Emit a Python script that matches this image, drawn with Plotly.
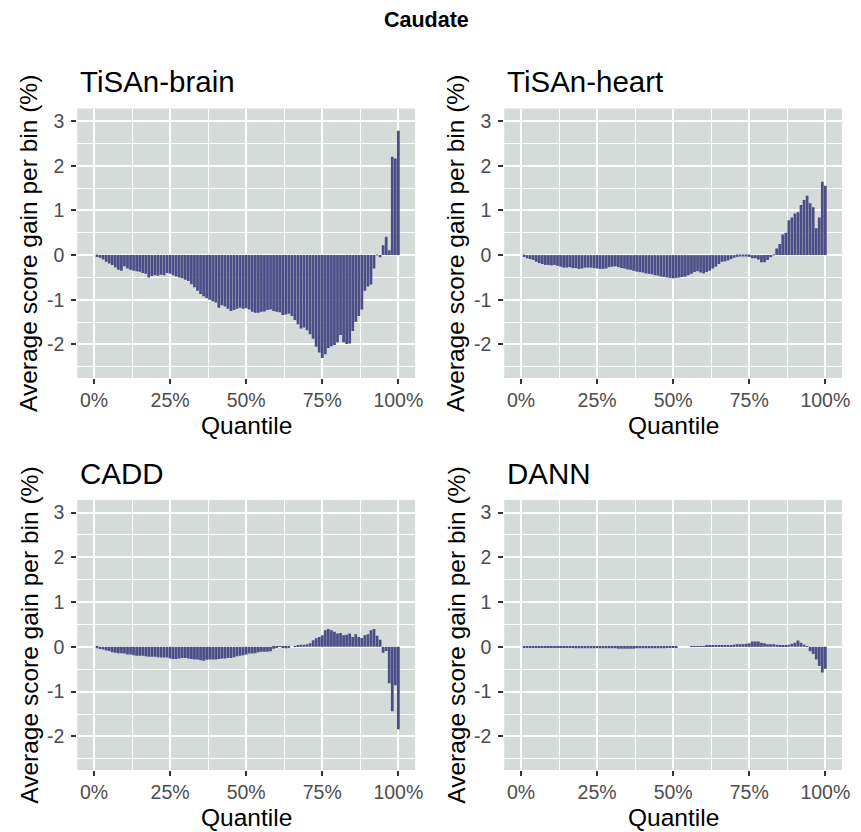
import plotly.graph_objects as go

# ---------------- data ----------------
quantile = list(range(1, 101))

tisan_brain = [
    -0.04, -0.06, -0.10, -0.15, -0.19, -0.22, -0.28, -0.33, -0.35, -0.25,
    -0.30, -0.33, -0.35, -0.36, -0.37, -0.40, -0.42, -0.50, -0.47, -0.45,
    -0.46, -0.44, -0.45, -0.40, -0.42, -0.45, -0.48, -0.50, -0.52, -0.55,
    -0.58, -0.65, -0.72, -0.80, -0.87, -0.92, -0.96, -1.00, -1.03, -1.06,
    -1.18, -1.12, -1.15, -1.20, -1.25, -1.23, -1.20, -1.18, -1.20, -1.19,
    -1.22, -1.27, -1.29, -1.29, -1.27, -1.26, -1.23, -1.22, -1.25, -1.27,
    -1.28, -1.34, -1.33, -1.31, -1.36, -1.45, -1.55, -1.64, -1.62, -1.68,
    -1.77, -1.87, -2.05, -2.18, -2.30, -2.22, -2.08, -2.04, -2.01, -1.95,
    -1.79, -1.95, -1.99, -1.98, -1.70, -1.49, -1.36, -1.22, -0.80, -0.70,
    -0.66, -0.30, 0.01, -0.05, 0.22, 0.41, 0.11, 2.20, 2.16, 2.78,
]

tisan_heart = [
    -0.04, -0.07, -0.09, -0.11, -0.15, -0.18, -0.20, -0.22, -0.22, -0.23,
    -0.22, -0.24, -0.26, -0.28, -0.28, -0.27, -0.29, -0.29, -0.31, -0.30,
    -0.28, -0.28, -0.28, -0.29, -0.30, -0.31, -0.31, -0.30, -0.27, -0.26,
    -0.25, -0.27, -0.29, -0.30, -0.32, -0.33, -0.35, -0.37, -0.38, -0.39,
    -0.41, -0.42, -0.43, -0.45, -0.46, -0.48, -0.49, -0.50, -0.51, -0.52,
    -0.51, -0.50, -0.49, -0.48, -0.45, -0.42, -0.38, -0.36, -0.39, -0.41,
    -0.38, -0.35, -0.30, -0.26, -0.20, -0.15, -0.14, -0.12, -0.09, -0.06,
    -0.04, -0.03, -0.02, -0.02, -0.04, -0.07, -0.07, -0.10, -0.16, -0.16,
    -0.11, -0.05, 0.01, 0.15, 0.25, 0.46, 0.50, 0.78, 0.84, 0.93,
    0.96, 1.12, 1.23, 1.33, 1.16, 1.07, 0.60, 0.84, 1.64, 1.55,
]

cadd = [
    -0.03, -0.05, -0.06, -0.08, -0.09, -0.12, -0.13, -0.14, -0.14, -0.15,
    -0.17, -0.17, -0.19, -0.20, -0.20, -0.20, -0.21, -0.22, -0.22, -0.22,
    -0.23, -0.24, -0.24, -0.24, -0.26, -0.27, -0.27, -0.26, -0.25, -0.25,
    -0.26, -0.27, -0.28, -0.28, -0.30, -0.31, -0.29, -0.28, -0.28, -0.28,
    -0.27, -0.26, -0.26, -0.25, -0.25, -0.23, -0.21, -0.20, -0.19, -0.17,
    -0.15, -0.15, -0.14, -0.12, -0.11, -0.11, -0.11, -0.10, -0.04, -0.01,
    0.01, -0.02, -0.03, -0.01, 0.00, 0.01, 0.04, 0.05, 0.05, 0.06,
    0.08, 0.15, 0.19, 0.22, 0.26, 0.37, 0.40, 0.37, 0.34, 0.30,
    0.31, 0.26, 0.27, 0.30, 0.22, 0.28, 0.22, 0.20, 0.26, 0.28,
    0.37, 0.40, 0.25, 0.16, -0.13, -0.09, -0.81, -1.44, -0.86, -1.84,
]

dann = [
    -0.01, -0.01, -0.01, -0.02, -0.02, -0.02, -0.02, -0.02, -0.02, -0.02,
    -0.02, -0.02, -0.02, -0.02, -0.02, -0.02, -0.02, -0.03, -0.03, -0.03,
    -0.03, -0.03, -0.03, -0.03, -0.03, -0.03, -0.03, -0.03, -0.03, -0.03,
    -0.03, -0.04, -0.04, -0.04, -0.04, -0.04, -0.04, -0.03, -0.03, -0.03,
    -0.03, -0.03, -0.03, -0.03, -0.03, -0.03, -0.03, -0.02, -0.02, -0.01,
    -0.01, 0.00, 0.00, 0.00, 0.00, 0.01, 0.01, 0.01, 0.01, 0.01,
    0.02, 0.02, 0.03, 0.03, 0.02, 0.02, 0.03, 0.04, 0.04, 0.05,
    0.06, 0.06, 0.06, 0.07, 0.08, 0.12, 0.12, 0.12, 0.09, 0.08,
    0.06, 0.06, 0.06, 0.05, 0.04, 0.03, 0.02, 0.05, 0.07, 0.09,
    0.14, 0.09, 0.05, 0.01, -0.10, -0.16, -0.28, -0.43, -0.57, -0.49,
]

panel_names = ["TiSAn-brain", "TiSAn-heart", "CADD", "DANN"]
panel_values = [tisan_brain, tisan_heart, cadd, dann]

x_tick_vals = [0, 25, 50, 75, 100]
x_tick_text = ["0%", "25%", "50%", "75%", "100%"]
y_tick_vals = [-2, -1, 0, 1, 2, 3]
y_tick_text = ["-2", "-1", "0", "1", "2", "3"]

main_title = "Caudate"
x_title = "Quantile"
y_title = "Average score gain per bin (%)"

# ---------------- styling / layout ----------------
W, H = 861, 832
FONT = "Liberation Sans, Arial, Helvetica, sans-serif"
BAR_COLOR = "#4b4d87"
PANEL_BG = "#d4dbd9"
TICK_SIZE = 19.5

# panel pixel boxes: (left, right, top, bottom)
boxes = [
    (78, 419, 108.5, 378),
    (509, 850, 108.5, 378),
    (78, 419, 500, 770),
    (509, 850, 500, 770),
]

fig = go.Figure()
annotations = []

for k, (name, vals) in enumerate(zip(panel_names, panel_values)):
    idx = "" if k == 0 else str(k + 1)
    fig.add_trace(go.Bar(
        x=quantile, y=vals,
        marker=dict(color=BAR_COLOR, line=dict(width=0)),
        xaxis="x" + idx, yaxis="y" + idx,
        showlegend=False,
    ))
    l, r, t, b = boxes[k]
    xd = [l / W, r / W]
    yd = [1 - b / H, 1 - t / H]
    fig.layout["xaxis" + idx] = dict(
        domain=xd, anchor="y" + idx, range=[-5.5, 105.5],
        tickmode="array", tickvals=x_tick_vals, ticktext=x_tick_text,
        showgrid=True, gridcolor="white", gridwidth=1.7,
        minor=dict(tickmode="array", tickvals=[12.5, 37.5, 62.5, 87.5],
                   showgrid=True, gridcolor="white", gridwidth=0.8, ticks=""),
        zeroline=False, showline=False,
        ticks="outside", ticklen=5, tickwidth=1.5, tickcolor="#333333",
        tickfont=dict(family=FONT, size=TICK_SIZE, color="#4d4d4d"),
        fixedrange=True,
    )
    fig.layout["yaxis" + idx] = dict(
        domain=yd, anchor="x" + idx, range=[-2.75, 3.28],
        tickmode="array", tickvals=y_tick_vals, ticktext=y_tick_text,
        showgrid=True, gridcolor="white", gridwidth=1.7,
        minor=dict(tickmode="array", tickvals=[-2.5, -1.5, -0.5, 0.5, 1.5, 2.5],
                   showgrid=True, gridcolor="white", gridwidth=0.8, ticks=""),
        zeroline=False, showline=False,
        ticks="outside", ticklen=5, tickwidth=1.5, tickcolor="#333333",
        tickfont=dict(family=FONT, size=TICK_SIZE, color="#4d4d4d"),
        ticklabelstandoff=3,
        fixedrange=True,
    )
    # panel title
    annotations.append(dict(
        text=name, x=(l + 0.5) / W, y=1 - (t - 27) / H,
        xref="paper", yref="paper", xanchor="left", yanchor="middle",
        showarrow=False, font=dict(family=FONT, size=29.5, color="black"),
    ))
    # x axis title
    annotations.append(dict(
        text=x_title, x=((l + r) / 2) / W, y=1 - (b + 47) / H,
        xref="paper", yref="paper", xanchor="center", yanchor="middle",
        showarrow=False, font=dict(family=FONT, size=24.5, color="black"),
    ))
    # y axis title
    annotations.append(dict(
        text=y_title, x=(l - 49) / W, y=1 - ((t + b) / 2) / H,
        xref="paper", yref="paper", xanchor="center", yanchor="middle",
        textangle=-90,
        showarrow=False, font=dict(family=FONT, size=24.5, color="black"),
    ))

annotations.append(dict(
    text="<b>" + main_title + "</b>", x=430.5 / W, y=1 - 20 / H,
    xref="paper", yref="paper", xanchor="center", yanchor="middle",
    showarrow=False, font=dict(family=FONT, size=21.5, color="black"),
))

fig.update_layout(
    width=W, height=H,
    margin=dict(l=0, r=0, t=0, b=0),
    paper_bgcolor="white", plot_bgcolor=PANEL_BG,
    bargap=0.1,
    annotations=annotations,
    showlegend=False,
)

fig.write_html("out.html", config={"displayModeBar": False})
